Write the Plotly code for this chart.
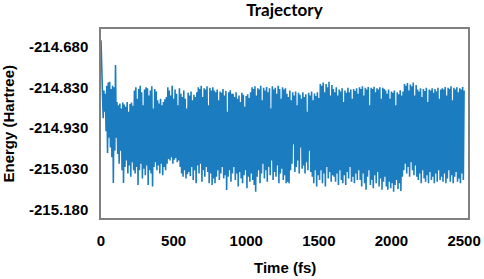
import plotly.graph_objects as go

# Peak energies (Hartree), one per 10 fs starting at t = 0 fs
peaks = [
    -214.660, -214.790, -214.815, -214.825, -214.800, -214.790, -214.788, -214.810, -214.800, -214.805, -214.736,
    -214.850, -214.860, -214.855, -214.870, -214.852, -214.858, -214.865, -214.850, -214.880, -214.856, -214.852, -214.862,
    -214.815, -214.805, -214.840, -214.810, -214.800, -214.820, -214.860, -214.812, -214.805, -214.808, -214.830, -214.815, -214.802, -214.870, -214.810, -214.818,
    -214.845, -214.855, -214.840, -214.860, -214.850, -214.842, -214.835,
    -214.805, -214.815, -214.830, -214.800, -214.840, -214.812, -214.825, -214.860, -214.808,
    -214.825, -214.835, -214.815, -214.840, -214.870, -214.822, -214.830, -214.818, -214.845, -214.828, -214.835, -214.820,
    -214.805, -214.810, -214.800, -214.835, -214.808, -214.812, -214.802, -214.860, -214.806, -214.815, -214.805,
    -214.815, -214.820, -214.812, -214.845, -214.818, -214.822, -214.810, -214.830, -214.816, -214.880, -214.820, -214.814, -214.825,
    -214.825, -214.835, -214.820, -214.840, -214.830, -214.850, -214.822, -214.828, -214.865, -214.832, -214.826, -214.838, -214.820,
    -214.805, -214.810, -214.802, -214.830, -214.808, -214.812, -214.800, -214.845, -214.806, -214.815, -214.804, -214.820,
    -214.808, -214.870, -214.802, -214.812, -214.806, -214.825, -214.800, -214.810, -214.840, -214.805, -214.812, -214.808,
    -214.825, -214.835, -214.815, -214.845, -214.820, -214.830, -214.818, -214.860, -214.822, -214.828, -214.840, -214.820,
    -214.835, -214.826, -214.880, -214.822, -214.830, -214.818, -214.845, -214.824, -214.832, -214.820, -214.838,
    -214.795, -214.800, -214.790, -214.820, -214.795, -214.805, -214.788, -214.830, -214.798,
    -214.810, -214.820, -214.805, -214.830, -214.812, -214.818, -214.808, -214.850, -214.815, -214.822, -214.806, -214.820,
    -214.812, -214.840, -214.810, -214.816, -214.808, -214.825,
    -214.805, -214.810, -214.802, -214.830, -214.806, -214.812, -214.804, -214.860, -214.806, -214.810, -214.803, -214.820,
    -214.808, -214.812, -214.805, -214.840, -214.806, -214.810,
    -214.815, -214.825, -214.812, -214.840, -214.818, -214.822, -214.815, -214.860, -214.820, -214.826, -214.814, -214.830, -214.818,
    -214.795, -214.800, -214.792, -214.815, -214.796, -214.802, -214.790, -214.830, -214.798,
    -214.812, -214.818, -214.808, -214.835, -214.810, -214.816, -214.806, -214.850, -214.812, -214.815, -214.808, -214.822,
    -214.810, -214.818, -214.806, -214.840, -214.812,
    -214.808, -214.812, -214.804, -214.830, -214.806, -214.810, -214.802, -214.845, -214.806, -214.812, -214.805, -214.820,
    -214.808, -214.812, -214.804, -214.815,
]

# Trough energies (Hartree), one per 10 fs starting at t = 5 fs
troughs = [
    -214.780, -214.900, -214.880, -214.940, -215.007, -214.960, -214.990, -215.020, -215.099, -215.000,
    -214.960, -215.010, -215.040, -215.000, -215.060, -215.099, -215.050, -215.030, -215.070, -215.045, -215.080, -215.035, -215.060,
    -215.070, -215.050, -215.105, -215.060, -215.040, -215.085, -215.055, -215.075, -215.045, -215.105, -215.060, -215.070, -215.110, -215.050, -215.035, -215.060,
    -215.045, -215.070, -215.040, -215.075, -215.050, -215.060, -215.040,
    -215.025, -215.030, -215.020, -215.040, -215.028, -215.022, -215.035, -215.030, -215.050,
    -215.070, -215.080, -215.060, -215.085, -215.072, -215.065, -215.078, -215.050, -215.090, -215.060, -215.100, -215.045,
    -215.070, -215.040, -215.095, -215.060, -215.080, -215.050, -215.065, -215.100, -215.070, -215.105, -215.085,
    -215.100, -215.080, -215.060, -215.090, -215.070, -215.050, -215.085, -215.075, -215.121, -215.080, -215.060, -215.095, -215.070,
    -215.050, -215.090, -215.070, -215.110, -215.065, -215.085, -215.100, -215.075, -215.060, -215.115, -215.080, -215.095, -215.070,
    -215.090, -215.105, -215.126, -215.080, -215.060, -215.100, -215.070, -215.040, -215.085, -215.060, -215.095, -215.050,
    -215.075, -215.030, -215.090, -215.065, -215.080, -215.045, -215.100, -215.070, -215.055, -215.090, -215.075, -215.100,
    -215.095, -215.100, -215.060, -215.040, -214.980, -215.065, -215.050, -215.030, -215.070, -214.990, -215.055, -215.045,
    -215.070, -215.035, -215.060, -215.000, -215.065, -215.080, -215.100, -215.060, -215.110, -215.075, -215.090,
    -215.060, -215.100, -215.070, -215.110, -215.050, -215.085, -215.065, -215.095, -215.075,
    -215.080, -215.095, -215.070, -215.105, -215.060, -215.090, -215.100, -215.075, -215.105, -215.065, -215.085, -215.050,
    -215.095, -215.080, -215.100, -215.070, -215.090, -215.060,
    -215.090, -215.110, -215.070, -215.100, -215.120, -215.080, -215.060, -215.105, -215.090, -215.115, -215.075, -215.100,
    -215.065, -215.110, -215.085, -215.120, -215.095, -215.080,
    -215.110, -215.120, -215.095, -215.115, -215.100, -215.126, -215.105, -215.090, -215.118, -215.100, -215.124, -215.080, -215.060,
    -215.040, -215.070, -215.050, -215.080, -215.035, -215.060, -215.075, -215.045, -215.080,
    -215.090, -215.070, -215.100, -215.060, -215.085, -215.095, -215.075, -215.100, -215.065, -215.090, -215.080, -215.100,
    -215.070, -215.095, -215.060, -215.090, -215.080,
    -215.095, -215.070, -215.100, -215.085, -215.060, -215.095, -215.075, -215.100, -215.080, -215.065, -215.095, -215.085,
    -215.100, -215.070, -215.090,
]

step_fs = 10
x_tick_vals = [0, 500, 1000, 1500, 2000, 2500]
y_tick_vals = [-214.680, -214.805, -214.930, -215.055, -215.180]
y_tick_text = ["-214.680", "-214.830", "-214.930", "-215.030", "-215.180"]

# Interleave peaks and troughs into one time series
time, energy = [], []
for i, p in enumerate(peaks):
    time.append(i * step_fs)
    energy.append(p)
    if i < len(troughs):
        time.append(i * step_fs + step_fs / 2)
        energy.append(troughs[i])

fig = go.Figure(go.Scatter(x=time, y=energy, mode="lines",
                           line=dict(color="#1b7dc0", width=1.6)))

axis_font = dict(family="Liberation Sans, Arial", size=15, color="#000000")
fig.update_layout(
    width=484, height=279,
    margin=dict(l=101, r=16, t=29, b=61, autoexpand=False),
    paper_bgcolor="white", plot_bgcolor="white",
    showlegend=False,
    title=dict(text="<b>Trajectory</b>", x=0.5, xref="paper", xanchor="center",
               y=1 - 10.5 / 279, yref="container", yanchor="middle",
               font=dict(family="Lato, Open Sans", size=17, color="#000000")),
    font=dict(family="Liberation Sans, Arial", color="#000000"),
)
fig.update_xaxes(range=[0, 2527], tickvals=x_tick_vals,
                 ticktext=[f"<b>{v}</b>" for v in x_tick_vals],
                 tickfont=axis_font, showgrid=False, zeroline=False,
                 showline=True, linecolor="#808080", linewidth=1.5, mirror=True,
                 ticks="", ticklabelstandoff=8, automargin=False)
fig.update_yaxes(range=[-215.2068, -214.6256], tickvals=y_tick_vals,
                 ticktext=[f"<b>{t}</b>" for t in y_tick_text],
                 tickfont=axis_font, showgrid=False, zeroline=False,
                 showline=True, linecolor="#808080", linewidth=1.5, mirror=True,
                 ticks="", ticklabelstandoff=8, automargin=False)
fig.add_annotation(text="<b>Time (fs)</b>", xref="paper", yref="paper",
                   x=0.5, y=-(267.5 - 218) / 189, xanchor="center", yanchor="middle",
                   showarrow=False, font=axis_font)
fig.add_annotation(text="<b>Energy (Hartree)</b>", xref="paper", yref="paper",
                   x=-(101 - 8) / 367, y=0.5, xanchor="center", yanchor="middle",
                   textangle=-90, showarrow=False, font=axis_font)

fig.write_html("out.html", config={"displayModeBar": False},
               post_script="document.body.style.margin='0';document.body.style.overflow='hidden';")
